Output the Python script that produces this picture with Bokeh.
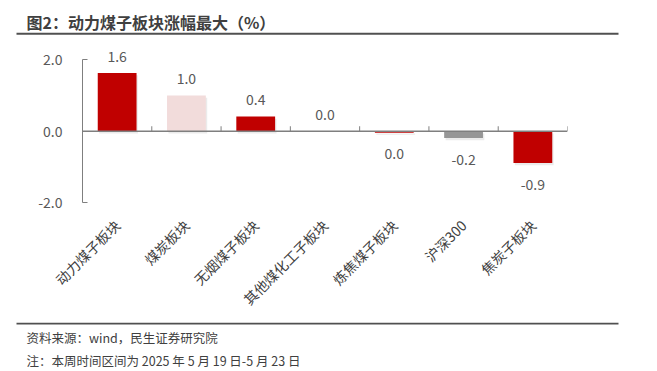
from math import pi
from bokeh.plotting import figure
from bokeh.layouts import column
from bokeh.models import (ColumnDataSource, Range1d, FactorRange, FixedTicker,
                          NumeralTickFormatter, Span, Label, BoxAnnotation)
from bokeh.transform import dodge
from bokeh.core.properties import value
from bokeh.embed import file_html
from bokeh.resources import INLINE

# ---- data ----
categories = ["动力煤子板块", "煤炭板块", "无烟煤子板块", "其他煤化工子板块",
              "炼焦煤子板块", "沪深300", "焦炭子板块"]
changes = [1.63, 1.00, 0.41, 0.00, -0.04, -0.19, -0.89]
bar_colors = ["#C00000", "#F2DCDB", "#C00000", "#C00000", "#C00000", "#969696", "#C00000"]
y_ticks = [-2.0, 0.0, 2.0]

title_text = "图2：动力煤子板块涨幅最大（%）"
source_text = "资料来源：wind，民生证券研究院"
note_text = "注：本周时间区间为 2025 年 5 月 19 日-5 月 23 日"

FONT = "Noto Sans CJK SC"
W = 641
TOP_H, MAIN_H, FOOT_H = 40, 282, 48
Y0, Y1 = -2.05, 2.4
FRAME_H = 159
RULE = "#505050"


def blank(h):
    f = figure(width=W, height=h, output_backend="svg", toolbar_location=None,
               x_axis_type=None, y_axis_type=None,
               x_range=Range1d(0, W), y_range=Range1d(0, h),
               min_border=0)
    f.outline_line_color = None
    f.xgrid.grid_line_color = None
    f.ygrid.grid_line_color = None
    return f


def rule(f, y0, y1):
    f.add_layout(BoxAnnotation(left=16, right=618, bottom=y0, top=y1,
                               left_units="screen", right_units="screen",
                               top_units="screen", bottom_units="screen",
                               fill_color=RULE, fill_alpha=1, line_color=None))


# ---- title block ----
top = blank(TOP_H)
top.add_layout(Label(x=26, y=18.5, x_units="screen", y_units="screen", text=title_text,
                     text_font=FONT, text_font_size="16px", text_font_style="bold",
                     text_color="#404040", text_baseline="middle"))
rule(top, 5.8, 7.8)

# ---- main chart ----
labels = [("%.1f" % v).replace("-0.0", "0.0") for v in changes]
offsets = [-17 if v >= 0 else 21 for v in changes]
sh = 0.06
src = ColumnDataSource(dict(cat=categories, val=changes, color=bar_colors,
                            lab=labels, off=offsets,
                            stop=[max(v, 0) - sh for v in changes],
                            sbot=[min(v, 0) - sh for v in changes]))

p = figure(width=W, height=MAIN_H, output_backend="svg", toolbar_location=None,
           x_range=FactorRange(*categories, range_padding=0),
           y_range=Range1d(Y0, Y1),
           min_border_left=82, min_border_right=W - 567, min_border_top=5,
           min_border_bottom=MAIN_H - 5 - FRAME_H)
p.outline_line_color = None
p.xgrid.grid_line_color = None
p.ygrid.grid_line_color = None

# soft shadow under bars
p.vbar(x=dodge("cat", 0.02, range=p.x_range), top="stop", bottom="sbot", width=0.56,
       fill_color="#000000", fill_alpha=0.08, line_color=None, source=src)
p.vbar(x="cat", top="val", bottom=0, width=0.56, fill_color="color",
       line_color=None, source=src)

p.text(x="cat", y="val", text="lab", y_offset="off", source=src,
       text_align="center", text_baseline="middle",
       text_font=value(FONT), text_font_size="14px", text_color="#595959")

# zero line and category boundary ticks
p.add_layout(Span(location=0, dimension="width", line_color="#7F7F7F", line_width=1.6))
n = len(categories)
tick_len = 5 / (FRAME_H / (Y1 - Y0))
p.segment(x0=list(range(1, n + 1)), x1=list(range(1, n + 1)),
          y0=[0] * n, y1=[tick_len] * n, line_color="#7F7F7F", line_width=1)

# y axis
ya = p.yaxis[0]
ya.ticker = FixedTicker(ticks=y_ticks)
ya.formatter = NumeralTickFormatter(format="0.0")
ya.bounds = (-2, 2)
ya.axis_line_color = "#7F7F7F"
ya.major_tick_line_color = "#7F7F7F"
ya.major_tick_in = 5
ya.major_tick_out = 0
ya.minor_tick_line_color = None
ya.major_label_standoff = 20
ya.major_label_text_font = FONT
ya.major_label_text_font_size = "14px"
ya.major_label_text_color = "#595959"

# x axis (labels only)
xa = p.xaxis[0]
xa.axis_line_color = None
xa.major_tick_line_color = None
xa.major_tick_out = 0
xa.major_tick_in = 0
xa.minor_tick_out = 0
xa.major_label_orientation = pi / 4
xa.major_label_standoff = 18
xa.major_label_text_font = FONT
xa.major_label_text_font_size = "14px"
xa.major_label_text_color = "#404040"

# ---- footer block ----
foot = blank(FOOT_H)
rule(foot, 46, 48)
foot.add_layout(Label(x=26, y=33.3, x_units="screen", y_units="screen", text=source_text,
                      text_font=FONT, text_font_size="12.5px",
                      text_color="#404040", text_baseline="middle"))
foot.add_layout(Label(x=26, y=10, x_units="screen", y_units="screen", text=note_text,
                      text_font=FONT, text_font_size="12.5px",
                      text_color="#404040", text_baseline="middle"))

layout = column(column(top), p, column(foot), spacing=0)
open("out.html", "w").write(file_html(layout, INLINE))
